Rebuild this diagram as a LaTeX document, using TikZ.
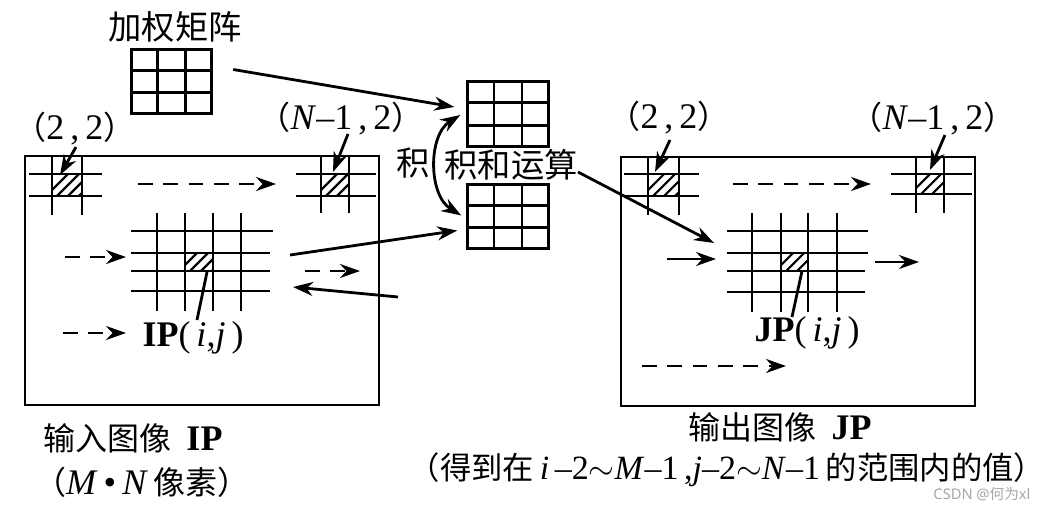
\documentclass[tikz,border=0pt]{standalone}
\usepackage{fontspec}
\setmainfont{Liberation Serif}
\newfontfamily\cjkf{Noto Sans CJK SC}
\newfontfamily\wmfont{Noto Sans}
\newcommand{\cjk}{\cjkf\fontsize{24}{28}\selectfont}
\newcommand{\cjks}{\cjkf\fontsize{23.5}{27}\selectfont}
\usetikzlibrary{arrows.meta,calc}
\tikzset{
  ln/.style={line width=2.1pt},
  hl/.style={line width=1.6pt},
  arr/.style={ln,-{Stealth[length=15pt,width=10.5pt]}},
  darr/.style={arr,dash pattern=on 11pt off 8pt},
  dblarr/.style={ln,{Stealth[length=15pt,width=10.5pt]}-{Stealth[length=15pt,width=10.5pt]}},
  kern/.style={draw,ln,inner sep=0pt,minimum width=60.5pt,minimum height=48.5pt},
  imgbox/.style={draw,ln,inner sep=0pt,minimum width=265.5pt,minimum height=186.75pt},
  lab/.style={inner sep=0pt,font=\fontsize{27}{30}\selectfont},
  smlab/.style={inner sep=0pt,font=\fontsize{25.5}{28}\selectfont},
  biglab/.style={inner sep=0pt,font=\cjkf\fontsize{25}{29}\selectfont},
}
\newcommand{\kgrid}[1]{%
  \draw[ln] ($(#1.north west)!1/3!(#1.north east)$) -- ($(#1.south west)!1/3!(#1.south east)$)
            ($(#1.north west)!2/3!(#1.north east)$) -- ($(#1.south west)!2/3!(#1.south east)$)
            ($(#1.north west)!1/3!(#1.south west)$) -- ($(#1.north east)!1/3!(#1.south east)$)
            ($(#1.north west)!2/3!(#1.south west)$) -- ($(#1.north east)!2/3!(#1.south east)$);}
\newcommand{\hatchcell}[4]{%
  \begin{scope}
    \clip (#1,#2) rectangle (#3,#4);
    \foreach \d in {-6,5,16,27}{\draw[hl] ({#1+\d},{#4}) -- ++(30,-30);}
  \end{scope}}
\begin{document}
\begin{tikzpicture}[x=0.75pt,y=-0.75pt]
\useasboundingbox (0,0) rectangle (1054,507);

% ---------- image boxes ----------
\node[imgbox] (IP) at (202,280.5) {};
\node[imgbox] (JP) at (798,281.5) {};

% ---------- kernels ----------
\node[biglab] (tW) at (175,27) {加权矩阵};
\node[kern] (W) at (171.5,81.5) {};
\node[kern] (K1) at (508,114) {};
\node[kern] (K2) at (508,216.5) {};
\kgrid{W}\kgrid{K1}\kgrid{K2}

\node[biglab] (ji) at (413,163) {积};
\node[biglab] (S) at (511,165) {积和运算};

% ---------- left image: mini grids ----------
\draw[ln] (29,174) -- (102,174) (29,196) -- (102,196) (52,156) -- (52,215) (82,156) -- (82,215);
\hatchcell{52}{174}{82}{196}
\draw[ln] (296,174) -- (376,174) (296,196) -- (376,196) (321,156) -- (321,213) (349,156) -- (349,213);
\hatchcell{321}{174}{349}{196}
\draw[ln] (157,213) -- (157,311) (185,213) -- (185,311) (213,213) -- (213,311) (241,213) -- (241,311)
          (131,231) -- (273,231) (131,253) -- (270,253) (131,271) -- (270,271) (131,291) -- (270,291);
\hatchcell{185}{253}{213}{271}

% ---------- right image: mini grids ----------
\draw[ln] (624,174) -- (699,174) (624,196) -- (699,196) (648,157) -- (648,215) (679,157) -- (679,215);
\hatchcell{648}{174}{679}{196}
\draw[ln] (891,174) -- (972,174) (891,194) -- (972,194) (916,157) -- (916,213) (944,157) -- (944,213);
\hatchcell{916}{174}{944}{194}
\draw[ln] (752,213) -- (752,312) (781,213) -- (781,312) (808,213) -- (808,312) (837,213) -- (837,312)
          (727,231) -- (868,231) (727,253) -- (868,253) (727,271) -- (865,271) (727,292) -- (865,292);
\hatchcell{781}{253}{808}{271}

% ---------- coordinate labels ----------
\node[lab] (A22) at (75,129) {{\cjk （}2\,,\,2{\cjk ）}};
\node[lab] (AN) at (341,119) {{\cjk （}\textit{N}–1\,,\,2{\cjk ）}};
\node[lab] (B22) at (669,118) {{\cjk （}2\,,\,2{\cjk ）}};
\node[lab] (BN) at (933,119) {{\cjk （}\textit{N}–1\,,\,2{\cjk ）}};
\coordinate (a22s) at (76,147);  \coordinate (a22e) at (60,175);
\coordinate (aNs) at (348,134);  \coordinate (aNe) at (333,172);
\coordinate (b22s) at (670,140); \coordinate (b22e) at (655,172);
\coordinate (bNs) at (945,135);  \coordinate (bNe) at (930,170);
\draw[arr] (a22s) -- (a22e);
\draw[arr] (aNs) -- (aNe);
\draw[arr] (b22s) -- (b22e);
\draw[arr] (bNs) -- (bNe);

% ---------- pixel labels ----------
\node[lab] (IPl) at (193,338) {\textbf{IP}(\,\textit{i},\textit{j}\,)};
\node[lab] (JPl) at (807,333) {\textbf{JP}(\,\textit{i},\textit{j}\,)};
\coordinate (ipl1) at (207,272); \coordinate (ipl2) at (197,320);
\coordinate (jpl1) at (802,271); \coordinate (jpl2) at (792,317);
\draw[ln] (ipl1) -- (ipl2);
\draw[ln] (jpl1) -- (jpl2);

% ---------- scan arrows, left ----------
\coordinate (l1s) at (138,184); \coordinate (l1e) at (276,184);
\coordinate (l2s) at (65,257);  \coordinate (l2e) at (126,257);
\coordinate (l3s) at (63,333);  \coordinate (l3e) at (126,333);
\coordinate (l4s) at (305,271); \coordinate (l4e) at (360,271);
\draw[darr] (l1s) -- (l1e);
\draw[darr] (l2s) -- (l2e);
\draw[darr] (l3s) -- (l3e);
\draw[darr] (l4s) -- (l4e);

% ---------- scan arrows, right ----------
\coordinate (r1s) at (733,184); \coordinate (r1e) at (871,184);
\coordinate (r2s) at (667,259); \coordinate (r2e) at (716,259);
\coordinate (r3s) at (875,262); \coordinate (r3e) at (919,262);
\coordinate (r4s) at (642,366); \coordinate (r4e) at (786,366);
\draw[darr] (r1s) -- (r1e);
\draw[arr] (r2s) -- (r2e);
\draw[arr] (r3s) -- (r3e);
\draw[darr] (r4s) -- (r4e);

% ---------- data flow ----------
\coordinate (gL) at (290,255);
\coordinate (ret1) at (398,297); \coordinate (ret2) at (293,287);
\coordinate (gR) at (714,243);
\draw[arr] ($(W.east)+(20,-12)$) -- ($(K1.west)+(-12,-7)$);
\draw[arr] (gL) -- ($(K2.west)+(-9,14)$);
\draw[arr] (ret1) -- (ret2);
\draw[dblarr] ($(K1.west)+(-6,1)$) .. controls (428,135) and (428,195) .. ($(K2.west)+(-5,-1)$);
\draw[arr] ($(S.east)+(0,7)$) -- (gR);

% ---------- captions ----------
\node[lab] (cap1) at (133,438) {{\cjk 输入图像}\, \textbf{IP}};
\node[lab] (cap1b) at (142,482) {{\cjk （}\textit{M}\,\textbullet\,\textit{N}\,{\cjk 像素）}};
\node[lab] (cap2) at (780,427) {{\cjk 输出图像}\, \textbf{JP}};
\node[smlab] (cap2b) at (727,470) {{\cjks （得到在}\,\textit{i}\,–2$\sim$\textit{M}–1\,,\textit{j}–2$\sim$\textit{N}–1\,{\cjks 的范围内的值）}};
\node[inner sep=0pt,text=black!35,font=\fontsize{11}{12}\wmfont] (wm) at (982,494) {CSDN @{\cjkf\fontsize{11}{12}\selectfont 何为}xl};
\end{tikzpicture}
\end{document}
